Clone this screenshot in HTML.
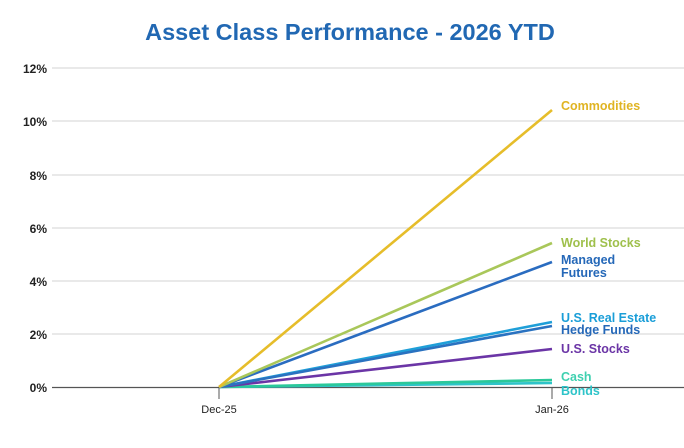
<!DOCTYPE html>
<html><head><style>
body{margin:0;background:#fff;}
svg text{font-family:"Liberation Sans",sans-serif;}
</style></head><body>
<svg width="684" height="443" xmlns="http://www.w3.org/2000/svg">
<rect width="684" height="443" fill="#fff"/>
<text x="350" y="40" text-anchor="middle" font-size="23.5" font-weight="bold" fill="#2168b3">Asset Class Performance - 2026 YTD</text>
<g stroke="#dcdcdc" stroke-width="1.2">
<line x1="52" x2="684" y1="68" y2="68"/>
<line x1="52" x2="684" y1="121" y2="121"/>
<line x1="52" x2="684" y1="175" y2="175"/>
<line x1="52" x2="684" y1="228" y2="228"/>
<line x1="52" x2="684" y1="281" y2="281"/>
<line x1="52" x2="684" y1="334" y2="334"/>
</g>
<line x1="52" x2="684" y1="387.5" y2="387.5" stroke="#555" stroke-width="1.2"/>
<line x1="219" x2="219" y1="387" y2="399" stroke="#555"/>
<line x1="552" x2="552" y1="387" y2="399" stroke="#555"/>
<g font-size="12" font-weight="bold" fill="#222" text-anchor="end">
<text x="47" y="73">12%</text>
<text x="47" y="126">10%</text>
<text x="47" y="180">8%</text>
<text x="47" y="233">6%</text>
<text x="47" y="286">4%</text>
<text x="47" y="339">2%</text>
<text x="47" y="392">0%</text>
</g>
<g font-size="11" fill="#222" text-anchor="middle">
<text x="219" y="413">Dec-25</text>
<text x="552" y="413">Jan-26</text>
</g>
<g stroke-width="2.6" fill="none">
<line x1="219" y1="387" x2="552" y2="383" stroke="#2ec4c9"/>
<line x1="219" y1="387" x2="552" y2="380" stroke="#2bc89a"/>
<line x1="219" y1="387" x2="552" y2="349" stroke="#6b35a6"/>
<line x1="219" y1="387" x2="552" y2="322" stroke="#1f9fd8"/>
<line x1="219" y1="387" x2="552" y2="326" stroke="#2a72c0"/>
<line x1="219" y1="387" x2="552" y2="262" stroke="#2a6cc0"/>
<line x1="219" y1="387" x2="552" y2="243" stroke="#a9c75a"/>
<line x1="219" y1="387" x2="552" y2="110" stroke="#e6bd2a"/>
</g>
<g font-size="12.5" font-weight="bold">
<text x="561" y="110" fill="#e0b423">Commodities</text>
<text x="561" y="247" fill="#9fc04c">World Stocks</text>
<text x="561" y="264" fill="#2568b8">Managed</text>
<text x="561" y="277" fill="#2568b8">Futures</text>
<text x="561" y="322" fill="#1a9ed8">U.S. Real Estate</text>
<text x="561" y="334" fill="#2568b8">Hedge Funds</text>
<text x="561" y="353" fill="#6b35a6">U.S. Stocks</text>
<text x="561" y="381" fill="#3fd0b0">Cash</text>
<text x="561" y="395" fill="#2ec4c9">Bonds</text>
</g>
</svg>
</body></html>
